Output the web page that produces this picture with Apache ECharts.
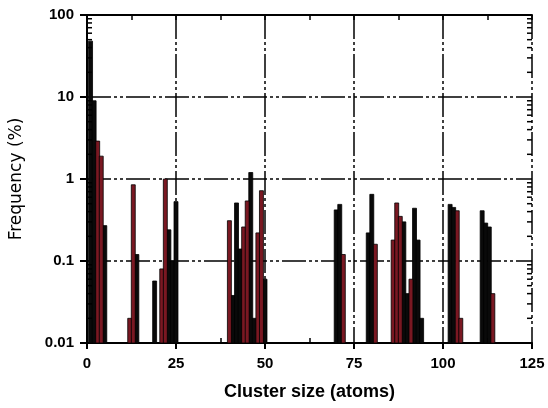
<!DOCTYPE html>
<html>
<head>
<meta charset="utf-8">
<script src="https://cdn.jsdelivr.net/npm/echarts@6/dist/echarts.min.js"></script>
<style>
html, body { margin: 0; padding: 0; background: #fff; }
#chart_panel { width: 548px; height: 408px; }
</style>
</head>
<body>
<div id="chart_panel"></div>
<script>
// cluster sizes / frequencies (%)
var blackSizes = [1, 2, 5, 14, 19, 23, 24, 25, 41, 42, 43, 46, 47, 50, 70, 71, 79, 80, 89, 90, 92, 93, 94, 102, 103, 111, 112, 113];
var blackFreq  = [48, 9, 0.27, 0.12, 0.057, 0.24, 0.1, 0.53, 0.038, 0.51, 0.14, 1.2, 0.02, 0.06, 0.42, 0.49, 0.22, 0.65, 0.3, 0.04, 0.44, 0.18, 0.02, 0.49, 0.45, 0.41, 0.29, 0.26];
var redSizes = [3, 4, 12, 13, 21, 22, 40, 44, 45, 48, 49, 72, 81, 86, 87, 88, 91, 104, 105, 114];
var redFreq  = [2.9, 1.9, 0.02, 0.85, 0.08, 1.0, 0.31, 0.26, 0.54, 0.22, 0.72, 0.12, 0.16, 0.18, 0.51, 0.35, 0.06, 0.41, 0.02, 0.04];

var yTickLabels = ['0.01', '0.1', '1', '10', '100'];
var yMinorTicks = [];
for (var d = 0.01; d < 100; d *= 10) {
	for (var m = 2; m <= 9; m++) {
		yMinorTicks.push(+(m * d).toPrecision(2));
	}
}

var FONT = 'Liberation Sans';
var gridDash = [24, 3, 3, 3, 3, 3];

function pairs(xs, ys) {
	var out = [];
	for (var i = 0; i < xs.length; i++) {
		out.push([xs[i], ys[i]]);
	}
	return out;
}

function barItem(color) {
	return function (params, api) {
		var top = api.coord([api.value(0), api.value(1)]);
		var base = api.coord([api.value(0), 0.01]);
		var w = api.size([1, 1])[0] + 0.4;
		return {
			type: 'rect',
			shape: { x: top[0] - w / 2, y: top[1], width: w, height: base[1] - top[1] },
			style: { fill: color, stroke: '#000', lineWidth: 0.8 }
		};
	};
}

var myChart = echarts.init(document.getElementById('chart_panel'));

var option = {
	animation: false,
	backgroundColor: '#fff',
	grid: { left: 84, right: 16, top: 15, bottom: 65 },
	xAxis: [
		{
			type: 'value', position: 'bottom',
			min: 0, max: 125, interval: 25,
			name: 'Cluster size (atoms)', nameLocation: 'middle', nameGap: 40,
			nameTextStyle: { fontFamily: FONT, fontWeight: 'bold', fontSize: 18, color: '#000' },
			axisLine: { show: true, lineStyle: { color: '#000', width: 2 } },
			axisTick: { show: true, inside: false, length: 6, lineStyle: { color: '#000', width: 2 } },
			axisLabel: { fontFamily: FONT, fontWeight: 'bold', fontSize: 15, color: '#000', margin: 13 },
			splitLine: { show: true, lineStyle: { color: '#000', width: 1.5, type: gridDash } }
		},
		{
			type: 'value', position: 'top',
			min: 0, max: 125, interval: 25,
			axisLine: { show: true, lineStyle: { color: '#000', width: 2 } },
			axisTick: { show: true, inside: true, length: 5, lineStyle: { color: '#000', width: 1.5 } },
			minorTick: { show: true, splitNumber: 2, length: 5, lineStyle: { color: '#000', width: 1.5 } },
			axisLabel: { show: false },
			splitLine: { show: false }
		},
		{
			type: 'value', position: 'bottom',
			min: 0, max: 125, interval: 25,
			axisLine: { show: false },
			axisTick: { show: false, inside: true },
			minorTick: { show: true, splitNumber: 2, length: 5, lineStyle: { color: '#000', width: 1.5 } },
			axisLabel: { show: false },
			splitLine: { show: false }
		}
	],
	yAxis: [
		{
			type: 'log', logBase: 10, position: 'left',
			min: 0.01, max: 100,
			name: 'Frequency (%)', nameLocation: 'middle', nameGap: 62,
			nameTextStyle: { fontFamily: 'DejaVu Sans', fontSize: 17, color: '#000' },
			axisLine: { show: true, lineStyle: { color: '#000', width: 2 } },
			axisTick: { show: true, inside: false, length: 7, lineStyle: { color: '#000', width: 2 } },
			axisLabel: {
				fontFamily: FONT, fontWeight: 'bold', fontSize: 15, color: '#000', margin: 13,
				formatter: function (v) {
					return yTickLabels[Math.round(Math.log10(v)) + 2];
				}
			},
			splitLine: { show: true, lineStyle: { color: '#000', width: 1.5, type: gridDash } }
		},
		{
			type: 'log', logBase: 10, position: 'right',
			min: 0.01, max: 100,
			axisLine: { show: true, lineStyle: { color: '#000', width: 2 } },
			axisTick: { show: true, inside: true, length: 6, lineStyle: { color: '#000', width: 1.5 } },
			axisLabel: { show: false },
			splitLine: { show: false }
		}
	],
	series: [
		{
			name: 'black', type: 'custom', xAxisIndex: 0, yAxisIndex: 0,
			renderItem: barItem('#0a0a0a'),
			data: pairs(blackSizes, blackFreq)
		},
		{
			name: 'red', type: 'custom', xAxisIndex: 0, yAxisIndex: 0,
			renderItem: barItem('#7a1822'),
			data: pairs(redSizes, redFreq)
		},
		{
			// minor log ticks on left and right frame
			name: 'minorTicks', type: 'custom', xAxisIndex: 0, yAxisIndex: 0, z: 5,
			renderItem: function (params, api) {
				var v = api.value(0);
				var l = api.coord([0, v]);
				var r = api.coord([125, v]);
				return {
					type: 'group',
					children: [
						{ type: 'line', shape: { x1: l[0], y1: l[1], x2: l[0] + 5, y2: l[1] }, style: { stroke: '#000', lineWidth: 1.5 } },
						{ type: 'line', shape: { x1: r[0], y1: r[1], x2: r[0] - 5, y2: r[1] }, style: { stroke: '#000', lineWidth: 1.5 } }
					]
				};
			},
			encode: { y: 0 },
			data: yMinorTicks.map(function (v) { return [v]; })
		}
	]
};

myChart.setOption(option, true);
</script>
</body>
</html>
